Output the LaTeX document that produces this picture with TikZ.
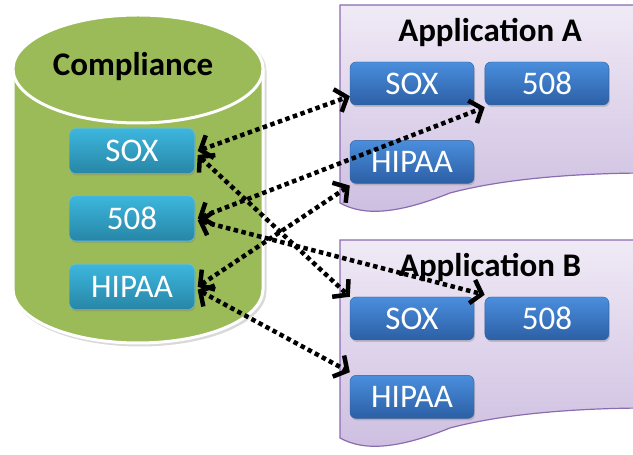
\documentclass[tikz,border=0pt]{standalone}
\usepackage{fontspec}
\setmainfont{Carlito}
\usetikzlibrary{positioning,arrows.meta,shadows}
\definecolor{cylgreen}{HTML}{9BBB59}
\definecolor{tealtop}{HTML}{3DB6DE}
\definecolor{tealbot}{HTML}{2786A6}
\definecolor{bluetop}{HTML}{4A8EDD}
\definecolor{bluebot}{HTML}{2C5FA5}
\definecolor{doctop}{HTML}{F0EAF6}
\definecolor{docbot}{HTML}{CDBEE0}
\definecolor{docline}{HTML}{8A6CB0}

\begin{document}
\begin{tikzpicture}[x=1pt, y=1pt, >={Straight Barb[length=10pt,width=24pt,line width=4.5pt]},
    every node/.style = {font=\fontsize{33}{38}\selectfont},
    compbox/.style = {rectangle, rounded corners=6pt, minimum width=125pt, minimum height=45pt,
      inner sep=0pt, top color=tealtop, bottom color=tealbot, draw=tealtop!80!white, text=white,
      drop shadow={opacity=.35, shadow xshift=1pt, shadow yshift=-2pt}},
    appbox/.style = {rectangle, rounded corners=6pt, minimum width=124pt, minimum height=43pt,
      inner sep=0pt, top color=bluetop, bottom color=bluebot, draw=bluetop!70!black, text=white,
      drop shadow={opacity=.35, shadow xshift=1pt, shadow yshift=-2pt}},
    doc/.style = {top color=doctop, bottom color=docbot, draw=docline, line width=1.2pt},
    link/.style = {<->, line width=4.5pt, dash pattern=on 4.5pt off 3.5pt}
    ]
    \useasboundingbox (0,0) rectangle (633,455);

    % compliance cylinder
    \draw[black!15, line width=3pt] (15,384) -- (15,164)
      arc[start angle=180, end angle=360, x radius=125, y radius=54] -- (265,384);
    \draw[black!12, line width=3pt] (140,384) ellipse [x radius=125, y radius=54];
    \fill[cylgreen] (13,166) -- (13,386) -- (263,386) -- (263,166)
      arc[start angle=0, end angle=-180, x radius=125, y radius=54] -- cycle;
    \draw[white, line width=3pt] (13,386) -- (13,166)
      arc[start angle=180, end angle=360, x radius=125, y radius=54] -- (263,386);
    \filldraw[fill=cylgreen, draw=white, line width=3pt] (138,386) ellipse [x radius=125, y radius=54];
    \node (comp) at (133,388) {\bfseries Compliance};
    \node[compbox] (csox) at (132,304) {SOX};
    \node[compbox] (c508) [below=22pt of csox] {508};
    \node[compbox] (chipaa) [below=23pt of c508] {HIPAA};

    % application A
    \draw[doc] (340,252) -- (340,450) -- (650,450) -- (650,282)
      .. controls (590,282) and (510,278) .. (450,262)
      .. controls (400,242) and (365,238) .. (340,252) -- cycle;
    \node (atitle) at (490,423) {\bfseries Application A};
    \node[appbox] (asox) at (412,371.5) {SOX};
    \node[appbox] (a508) [right=10.5pt of asox] {508};
    \node[appbox] (ahipaa) [below=35pt of asox] {HIPAA};

    % application B
    \draw[doc] (340,17) -- (340,215) -- (650,215) -- (650,47)
      .. controls (590,47) and (510,43) .. (450,27)
      .. controls (400,7) and (365,3) .. (340,17) -- cycle;
    \node (btitle) at (490,188) {\bfseries Application B};
    \node[appbox] (bsox) at (412,136.5) {SOX};
    \node[appbox] (b508) [right=10.5pt of bsox] {508};
    \node[appbox] (bhipaa) [below=35pt of bsox] {HIPAA};

    % links
    \draw[link] ([xshift=3pt]csox.east) -- ([yshift=9pt]asox.south west);
    \draw[link] ([xshift=3pt]c508.east) -- ([yshift=-2pt]a508.south west);
    \draw[link] ([xshift=3pt]chipaa.east) -- ([yshift=-2pt]ahipaa.south west);
    \draw[link] ([xshift=3pt,yshift=-4pt]csox.east) -- (bsox.north west);
    \draw[link] ([xshift=3pt,yshift=-2pt]c508.east) -- ([yshift=2pt]b508.north west);
    \draw[link] ([xshift=3pt,yshift=-3pt]chipaa.east) -- ([yshift=3pt]bhipaa.north west);
\end{tikzpicture}
\end{document}
